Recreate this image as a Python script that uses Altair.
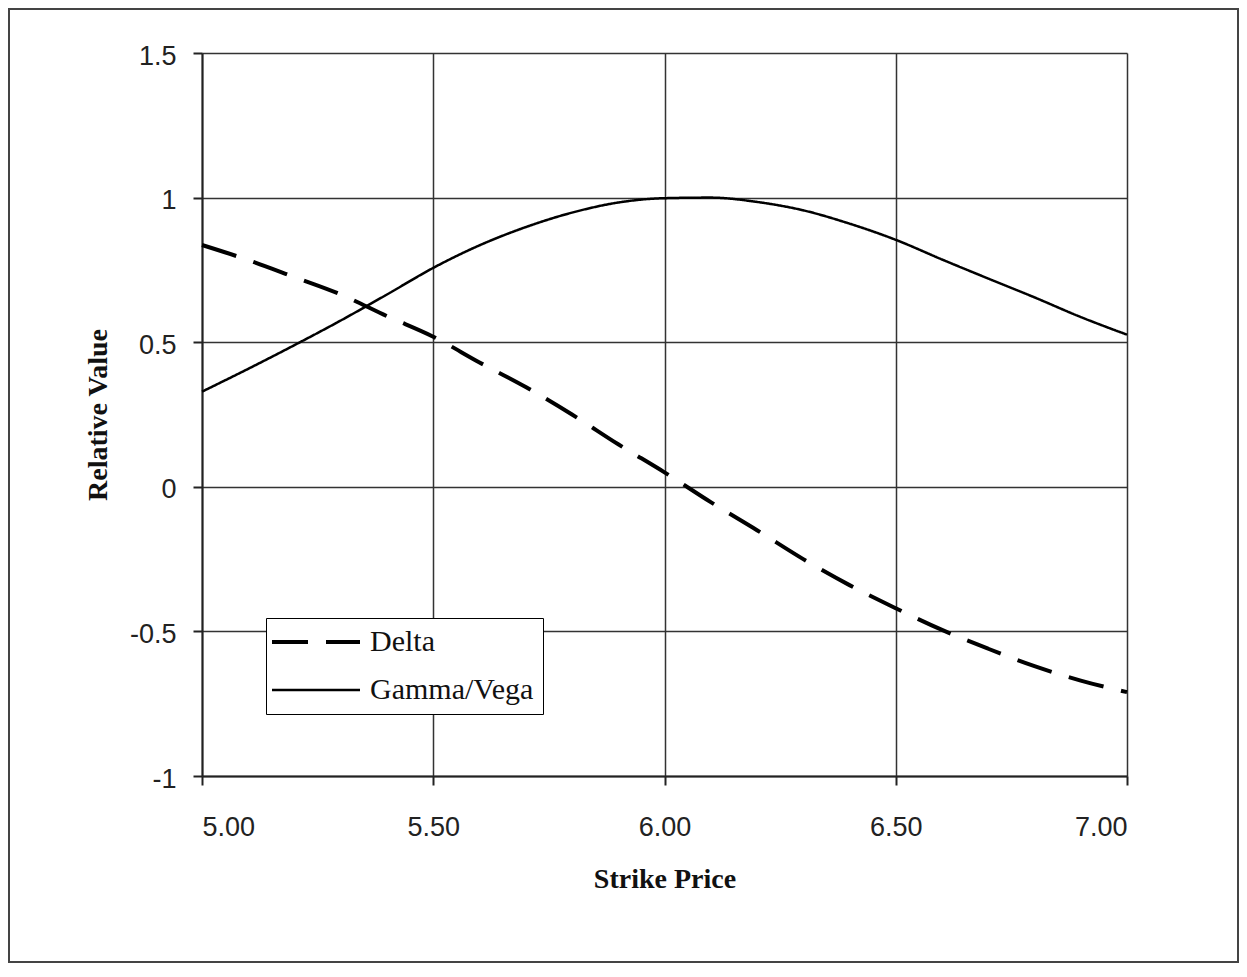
import altair as alt
import pandas as pd

strike = [5.0, 5.1, 5.2, 5.3, 5.4, 5.5, 5.6, 5.7, 5.8, 5.9, 6.0,
          6.1, 6.2, 6.3, 6.4, 6.5, 6.6, 6.7, 6.8, 6.9, 7.0]
delta = [0.836, 0.784, 0.725, 0.665, 0.59, 0.519, 0.43, 0.345, 0.25, 0.147, 0.05,
         -0.053, -0.15, -0.25, -0.34, -0.42, -0.495, -0.56, -0.62, -0.67, -0.71]
gamma_vega = [0.329, 0.408, 0.49, 0.575, 0.665, 0.757, 0.835, 0.898, 0.948, 0.983, 0.998,
              1.0, 0.985, 0.956, 0.91, 0.854, 0.786, 0.72, 0.655, 0.587, 0.526]
series_names = ["Delta", "Gamma/Vega"]
x_ticks = [5.0, 5.5, 6.0, 6.5, 7.0]
y_ticks = [-1, -0.5, 0, 0.5, 1, 1.5]

rows = []
for s, d, g in zip(strike, delta, gamma_vega):
    rows.append({"strike": s, "value": d, "series": series_names[0]})
    rows.append({"strike": s, "value": g, "series": series_names[1]})
df = pd.DataFrame(rows)

W, H = 925, 723
PL, PT, PR, PB = 194, 45, 112, 187

lines = alt.Chart(df).mark_line(interpolate="monotone", color="black").encode(
    x=alt.X("strike:Q",
            scale=alt.Scale(domain=[5, 7], nice=False, zero=False),
            axis=alt.Axis(values=x_ticks, format=".2f", title="Strike Price",
                          titleBaseline="alphabetic", titleY=111, titleX=W / 2,
                          titleAnchor="middle")),
    y=alt.Y("value:Q",
            scale=alt.Scale(domain=[-1, 1.5], nice=False, zero=False),
            axis=alt.Axis(values=y_ticks, labelExpr="toString(datum.value)",
                          title="Relative Value", titleBaseline="alphabetic",
                          titleX=-96, titleY=H / 2, titleAnchor="middle",
                          labelOffset=3)),
    strokeDash=alt.StrokeDash("series:N",
                              scale=alt.Scale(domain=series_names, range=[[36, 18], [1, 0]]),
                              legend=alt.Legend(title=None)),
    strokeWidth=alt.StrokeWidth("series:N",
                                scale=alt.Scale(domain=series_names, range=[4, 2.5]),
                                legend=alt.Legend(title=None)),
    detail="series:N",
)

frame = alt.Chart(pd.DataFrame({"k": [0]})).mark_rect(
    fill="transparent", stroke="#444444", strokeWidth=2
).encode(
    x=alt.value(-PL + 1), x2=alt.value(W + PR - 1),
    y=alt.value(-PT + 1), y2=alt.value(H + PB - 1),
)

chart = alt.layer(frame, lines).properties(
    width=W, height=H,
    autosize=alt.AutoSizeParams(type="none"),
    padding={"left": PL, "top": PT, "right": PR, "bottom": PB},
    background="white",
).configure_view(
    stroke=None
).configure_axis(
    grid=True,
    gridColor="#333333",
    gridWidth=1.5,
    domainColor="#222222",
    domainWidth=2,
    tickColor="#222222",
    tickWidth=2,
    tickSize=9,
    labelFont="Liberation Sans",
    labelFontSize=27,
    labelColor="#222222",
    titleFont="Liberation Serif",
    titleFontSize=28,
    titleFontWeight="bold",
    titleColor="#111111",
).configure_axisX(
    labelPadding=29,
).configure_axisY(
    labelPadding=17,
).configure_legend(
    orient="none",
    legendX=64,
    legendY=565,
    fillColor="white",
    strokeColor="black",
    padding=9,
    symbolType="M-4,0H4",
    symbolSize=484,
    symbolOffset=26,
    symbolStrokeColor="black",
    labelFont="Liberation Serif",
    labelFontSize=30,
    labelColor="#111111",
    labelOffset=39,
    labelLimit=0,
    rowPadding=18,
)

chart.save("out.html", embed_options={"renderer": "svg", "actions": False})
